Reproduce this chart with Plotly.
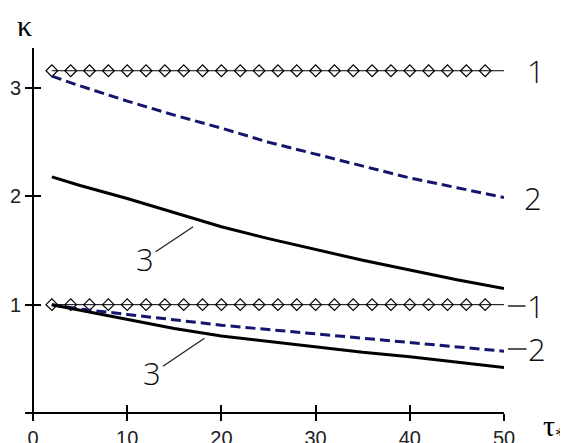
import plotly.graph_objects as go

# ---- data ----
tau_line = [2, 4, 6, 8, 10, 12, 14, 16, 18, 20, 22, 24, 26, 28, 30, 32, 34, 36, 38, 40, 42, 44, 46, 48, 50]
tau_markers = [2, 4, 6, 8, 10, 12, 14, 16, 18, 20, 22, 24, 26, 28, 30, 32, 34, 36, 38, 40, 42, 44, 46, 48]
k1_upper = 3.16
k1_lower = 1.0

tau = [2, 5, 10, 15, 20, 25, 30, 35, 40, 45, 50]
k2_upper = [3.11, 3.02, 2.88, 2.75, 2.63, 2.50, 2.39, 2.28, 2.17, 2.08, 1.99]
k3_upper = [2.18, 2.10, 1.98, 1.85, 1.72, 1.61, 1.51, 1.41, 1.32, 1.23, 1.15]
k2_lower = [1.00, 0.96, 0.91, 0.86, 0.81, 0.77, 0.73, 0.69, 0.65, 0.61, 0.57]
k3_lower = [1.00, 0.95, 0.87, 0.78, 0.71, 0.66, 0.61, 0.56, 0.52, 0.47, 0.42]

x_ticks = [0, 10, 20, 30, 40, 50]
y_ticks = [1, 2, 3]
x_range = [-0.85, 50]
y_range = [-0.065, 3.37]

NAVY = "#15156e"

fig = go.Figure()

for k in (k1_upper, k1_lower):
    fig.add_trace(go.Scatter(x=tau_line, y=[k] * len(tau_line), mode="lines",
                             line=dict(color="black", width=1), cliponaxis=False))
    fig.add_trace(go.Scatter(x=tau_markers, y=[k] * len(tau_markers), mode="markers",
                             marker=dict(symbol="diamond-open", size=9, color="black",
                                         line=dict(width=1.2, color="black")),
                             cliponaxis=False))

for ys in (k2_upper, k2_lower):
    fig.add_trace(go.Scatter(x=tau, y=ys, mode="lines",
                             line=dict(color=NAVY, width=3, dash="10px,5px"), cliponaxis=False))
for ys in (k3_upper, k3_lower):
    fig.add_trace(go.Scatter(x=tau, y=ys, mode="lines",
                             line=dict(color="black", width=3), cliponaxis=False))

# invisible trace on the overlay axes (for inward tick marks)
fig.add_trace(go.Scatter(x=[0], y=[0], xaxis="x2", yaxis="y2", mode="markers",
                         marker=dict(opacity=0), hoverinfo="skip"))

axis_common = dict(showgrid=False, zeroline=False, showline=True, linecolor="black",
                   linewidth=2, tickcolor="black", tickwidth=2, ticklen=7,
                   automargin=False)
tick_font = dict(family="Liberation Sans", size=20, color="#222")

# page body has an 8px margin: build a 560x435 figure placed at (8, 8)
OFF = 8
W, H = 568 - OFF, 443 - OFF
L, R, T, B = 25 - OFF, 568 - 504, 48 - OFF, 443 - 420
PW, PH = W - L - R, H - T - B


def px(xp):
    """reference-picture x pixel -> paper fraction"""
    return (xp - OFF - L) / PW


def py(yp):
    """reference-picture y pixel -> paper fraction"""
    return (H - B - (yp - OFF)) / PH


xpos = py(413)
ypos = px(33)

fig.update_layout(
    width=W, height=H,
    margin=dict(l=L, r=R, t=T, b=B, autoexpand=False),
    paper_bgcolor="white", plot_bgcolor="white",
    showlegend=False,
    xaxis=dict(range=x_range, tickvals=x_ticks, ticks="outside", anchor="free",
               position=xpos, tickfont=tick_font, **axis_common),
    yaxis=dict(range=y_range, tickvals=y_ticks, ticks="outside", anchor="free",
               position=ypos, tickfont=tick_font, **axis_common),
    xaxis2=dict(range=x_range, tickvals=x_ticks, ticks="inside", overlaying="x",
                anchor="free", position=xpos, showticklabels=False, **axis_common),
    yaxis2=dict(range=y_range, tickvals=y_ticks, ticks="inside", overlaying="y",
                anchor="free", position=ypos, showticklabels=False, **axis_common),
)

lab_font = dict(family="Open Sans", size=31, color="#111", weight=300)

# right-side labels (pixel positions)
fig.add_annotation(xref="paper", yref="paper", x=px(536), y=py(71), text="1",
                   showarrow=False, font=lab_font, xanchor="center", yanchor="middle")
fig.add_annotation(xref="paper", yref="paper", x=px(533), y=py(198), text="2",
                   showarrow=False, font=lab_font, xanchor="center", yanchor="middle")
fig.add_annotation(xref="paper", yref="paper", x=px(508), y=py(306), text="1",
                   showarrow=True, arrowhead=0, arrowwidth=1.3, arrowcolor="#222",
                   ax=28, ay=0, font=lab_font, standoff=0)
fig.add_annotation(xref="paper", yref="paper", x=px(508), y=py(349), text="2",
                   showarrow=True, arrowhead=0, arrowwidth=1.3, arrowcolor="#222",
                   ax=29, ay=0, font=lab_font, standoff=0)
# "3" leaders pointing to the curves
fig.add_annotation(x=17.0, y=1.72, text="3", showarrow=True, arrowhead=0,
                   arrowwidth=1.3, arrowcolor="#222", ax=-48, ay=32, font=lab_font, standoff=0)
fig.add_annotation(x=18.2, y=0.69, text="3", showarrow=True, arrowhead=0,
                   arrowwidth=1.3, arrowcolor="#222", ax=-52, ay=35, font=lab_font, standoff=0)

# axis titles
fig.add_annotation(xref="paper", yref="paper", x=px(24), y=py(25),
                   text="κ", showarrow=False,
                   font=dict(family="Liberation Serif", size=30, color="black"),
                   xanchor="center", yanchor="middle")
fig.add_annotation(xref="paper", yref="paper", x=px(541), y=py(428),
                   text="τ<sub>*</sub>", showarrow=False,
                   font=dict(family="Liberation Serif", size=30, color="black"),
                   xanchor="left", yanchor="middle")

fig.write_html("out.html")
